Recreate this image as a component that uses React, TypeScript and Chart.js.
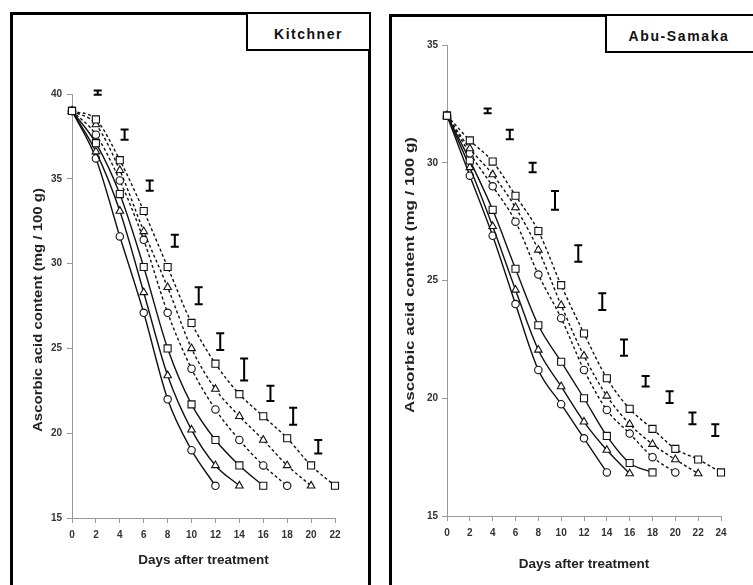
import React, { useEffect, useRef } from 'react';
import { Chart, registerables } from 'chart.js';

Chart.register(...registerables);

const FONT = '"Liberation Sans", Arial, sans-serif';

const DAYS = [0, 2, 4, 6, 8, 10, 12, 14, 16, 18, 20, 22, 24];

// ---- Kitchner ----
const K_SOLID_CIRCLE = [39, 36.2, 31.6, 27.1, 22.0, 19.0, 16.9];
const K_SOLID_TRIANGLE = [39, 36.6, 33.1, 28.3, 23.4, 20.2, 18.1, 16.9];
const K_SOLID_SQUARE = [39, 37.1, 34.1, 29.8, 25.0, 21.7, 19.6, 18.1, 16.9];
const K_DASH_CIRCLE = [39, 37.6, 34.9, 31.4, 27.1, 23.8, 21.4, 19.6, 18.1, 16.9];
const K_DASH_TRIANGLE = [39, 38.2, 35.5, 31.9, 28.6, 25.0, 22.6, 21.0, 19.6, 18.1, 16.9];
const K_DASH_SQUARE = [39, 38.5, 36.1, 33.1, 29.8, 26.5, 24.1, 22.3, 21.0, 19.7, 18.1, 16.9];
const K_ERR_X = [2.15, 4.4, 6.5, 8.6, 10.6, 12.4, 14.4, 16.6, 18.5, 20.6];
const K_ERR_LOW = [39.95, 37.3, 34.3, 31.0, 27.6, 24.9, 23.1, 21.9, 20.5, 18.8];
const K_ERR_HIGH = [40.2, 37.9, 34.9, 31.7, 28.6, 25.9, 24.4, 22.8, 21.5, 19.6];
const K_Y_MIN = 15;
const K_Y_MAX = 40;
const K_X_MAX = 22;

// ---- Abu-Samaka ----
const A_SOLID_CIRCLE = [32, 29.45, 26.9, 24.0, 21.2, 19.75, 18.3, 16.85];
const A_SOLID_TRIANGLE = [32, 29.8, 27.3, 24.6, 22.05, 20.5, 19.0, 17.8, 16.8];
const A_SOLID_SQUARE = [32, 30.1, 28.0, 25.5, 23.1, 21.55, 20.0, 18.4, 17.25, 16.85];
const A_DASH_CIRCLE = [32, 30.4, 29.0, 27.5, 25.25, 23.4, 21.2, 19.5, 18.5, 17.5, 16.85];
const A_DASH_TRIANGLE = [32, 30.6, 29.5, 28.1, 26.3, 23.95, 21.8, 20.1, 18.9, 18.05, 17.4, 16.8];
const A_DASH_SQUARE = [32, 30.95, 30.05, 28.6, 27.1, 24.8, 22.75, 20.85, 19.55, 18.7, 17.85, 17.4, 16.85];
const A_ERR_X = [3.56, 5.5, 7.5, 9.46, 11.5, 13.6, 15.5, 17.4, 19.5, 21.5, 23.5];
const A_ERR_LOW = [32.1, 31.0, 29.6, 28.0, 25.8, 23.75, 21.8, 20.5, 19.8, 18.9, 18.4];
const A_ERR_HIGH = [32.3, 31.4, 30.0, 28.8, 26.5, 24.46, 22.5, 20.95, 20.3, 19.4, 18.9];
const A_Y_MIN = 15;
const A_Y_MAX = 35;
const A_X_MAX = 24;

const Y_TITLE = 'Ascorbic acid content (mg / 100 g)';
const X_TITLE = 'Days after treatment';

const errorBarsPlugin = {
  id: 'errorBars',
  afterDatasetsDraw(chart: any, _args: any, opts: any) {
    if (!opts || !opts.xs) return;
    const { ctx } = chart;
    const xs = chart.scales.x;
    const ys = chart.scales.y;
    ctx.save();
    ctx.strokeStyle = '#000';
    ctx.lineWidth = 2;
    ctx.lineCap = 'butt';
    for (let i = 0; i < opts.xs.length; i++) {
      const px = xs.getPixelForValue(opts.xs[i]);
      const p1 = ys.getPixelForValue(opts.lows[i]);
      const p2 = ys.getPixelForValue(opts.highs[i]);
      const c = 4;
      ctx.beginPath();
      ctx.moveTo(px, p1);
      ctx.lineTo(px, p2);
      ctx.moveTo(px - c, p1);
      ctx.lineTo(px + c, p1);
      ctx.moveTo(px - c, p2);
      ctx.lineTo(px + c, p2);
      ctx.stroke();
    }
    ctx.restore();
  },
};

const yTitlePlugin = {
  id: 'yTitle',
  afterDraw(chart: any, _args: any, opts: any) {
    if (!opts || !opts.text) return;
    const { ctx } = chart;
    ctx.save();
    ctx.font = opts.font;
    const w = ctx.measureText(opts.text).width;
    const sx = opts.length / w;
    ctx.translate(opts.x, opts.y);
    ctx.rotate(-Math.PI / 2);
    ctx.scale(sx, 1);
    ctx.fillStyle = '#222';
    ctx.textAlign = 'center';
    ctx.textBaseline = 'middle';
    ctx.fillText(opts.text, 0, 0);
    ctx.restore();
  },
};

function series(values: number[], style: string, dashed: boolean) {
  const radius = style === 'rect' ? 5 : style === 'triangle' ? 4.4 : 3.7;
  return {
    data: values.map((v, i) => ({ x: DAYS[i], y: v })),
    borderColor: '#111',
    borderWidth: 1.4,
    borderDash: dashed ? [3, 2.5] : [],
    pointStyle: style,
    pointRadius: radius,
    pointBackgroundColor: '#fff',
    pointBorderColor: '#111',
    pointBorderWidth: 1.1,
    cubicInterpolationMode: 'monotone',
    fill: false,
    clip: false,
  };
}

type PanelProps = {
  left: number;
  width: number;
  sets: any[];
  errX: number[];
  errLow: number[];
  errHigh: number[];
  yMin: number;
  yMax: number;
  xMax: number;
  padTop: number;
  padRight: number;
  yW: number;
  xH: number;
  yTickPad: number;
  xTitlePad: number;
  yTitleX: number;
  yTitleY: number;
  yTitleLen: number;
};

function Panel(p: PanelProps) {
  const ref = useRef<HTMLCanvasElement | null>(null);
  useEffect(() => {
    if (!ref.current) return;
    const tickFont = { family: FONT, size: 10, weight: 'bold' as const };
    const chart = new Chart(ref.current, {
      type: 'line',
      data: { datasets: p.sets as any },
      options: {
        responsive: false,
        animation: false,
        devicePixelRatio: 1,
        layout: { padding: { left: 0, top: p.padTop, right: p.padRight, bottom: 0 } },
        plugins: {
          legend: { display: false },
          tooltip: { enabled: false },
          errorBars: { xs: p.errX, lows: p.errLow, highs: p.errHigh },
          yTitle: {
            text: Y_TITLE,
            x: p.yTitleX,
            y: p.yTitleY,
            length: p.yTitleLen,
            font: `bold 13px ${FONT}`,
          },
        } as any,
        scales: {
          x: {
            type: 'linear',
            min: 0,
            max: p.xMax,
            afterFit: (s: any) => {
              s.height = p.xH;
            },
            ticks: { stepSize: 2, font: tickFont, color: '#333', padding: 6, maxRotation: 0, autoSkip: false },
            grid: { drawOnChartArea: false, tickLength: 5, color: '#999' },
            border: { color: '#999' },
            title: {
              display: true,
              text: X_TITLE,
              font: { family: FONT, size: 13.5, weight: 'bold' },
              color: '#222',
              padding: { top: 0, bottom: p.xTitlePad },
            },
          },
          y: {
            type: 'linear',
            min: p.yMin,
            max: p.yMax,
            afterFit: (s: any) => {
              s.width = p.yW;
            },
            ticks: { stepSize: 5, font: tickFont, color: '#333', padding: p.yTickPad },
            grid: { drawOnChartArea: false, tickLength: 5, color: '#999' },
            border: { color: '#999' },
          },
        } as any,
      },
      plugins: [errorBarsPlugin, yTitlePlugin],
    });
    return () => chart.destroy();
  }, []);
  return (
    <canvas
      ref={ref}
      width={p.width}
      height={585}
      style={{ position: 'absolute', left: p.left, top: 0, width: p.width, height: 585 }}
    />
  );
}

const kSets = [
  series(K_DASH_SQUARE, 'rect', true),
  series(K_DASH_TRIANGLE, 'triangle', true),
  series(K_DASH_CIRCLE, 'circle', true),
  series(K_SOLID_SQUARE, 'rect', false),
  series(K_SOLID_TRIANGLE, 'triangle', false),
  series(K_SOLID_CIRCLE, 'circle', false),
];

const aSets = [
  series(A_DASH_SQUARE, 'rect', true),
  series(A_DASH_TRIANGLE, 'triangle', true),
  series(A_DASH_CIRCLE, 'circle', true),
  series(A_SOLID_SQUARE, 'rect', false),
  series(A_SOLID_TRIANGLE, 'triangle', false),
  series(A_SOLID_CIRCLE, 'circle', false),
];

const boxTitle: React.CSSProperties = {
  position: 'absolute',
  boxSizing: 'border-box',
  border: '2px solid #000',
  background: '#fff',
  display: 'flex',
  alignItems: 'center',
  justifyContent: 'center',
  fontFamily: FONT,
  fontWeight: 'bold',
  fontSize: 14,
  letterSpacing: 1.5,
  color: '#111',
  paddingTop: 4,
};

export default function App() {
  return (
    <div
      style={{
        position: 'absolute',
        left: 0,
        top: 0,
        width: 753,
        height: 585,
        overflow: 'hidden',
        background: '#fff',
      }}
    >
      <Panel
        left={0}
        width={376}
        sets={kSets}
        errX={K_ERR_X}
        errLow={K_ERR_LOW}
        errHigh={K_ERR_HIGH}
        yMin={K_Y_MIN}
        yMax={K_Y_MAX}
        xMax={K_X_MAX}
        padTop={94}
        padRight={41}
        yW={72}
        xH={67}
        yTickPad={5}
        xTitlePad={17}
        yTitleX={38}
        yTitleY={310}
        yTitleLen={244}
      />
      <Panel
        left={376}
        width={377}
        sets={aSets}
        errX={A_ERR_X}
        errLow={A_ERR_LOW}
        errHigh={A_ERR_HIGH}
        yMin={A_Y_MIN}
        yMax={A_Y_MAX}
        xMax={A_X_MAX}
        padTop={45}
        padRight={32}
        yW={71}
        xH={69}
        yTickPad={4}
        xTitlePad={13}
        yTitleX={34}
        yTitleY={275}
        yTitleLen={276}
      />
      {/* frames */}
      <div
        style={{
          position: 'absolute',
          left: 10,
          top: 12,
          width: 361,
          height: 620,
          boxSizing: 'border-box',
          border: '3px solid #000',
          pointerEvents: 'none',
        }}
      />
      <div style={{ ...boxTitle, left: 246, top: 12, width: 125, height: 39 }}>Kitchner</div>
      <div
        style={{
          position: 'absolute',
          left: 389,
          top: 14,
          width: 400,
          height: 620,
          boxSizing: 'border-box',
          border: '3px solid #000',
          pointerEvents: 'none',
        }}
      />
      <div style={{ ...boxTitle, left: 605, top: 14, width: 160, height: 39, paddingRight: 12, letterSpacing: 1.6 }}>
        Abu-Samaka
      </div>
    </div>
  );
}
